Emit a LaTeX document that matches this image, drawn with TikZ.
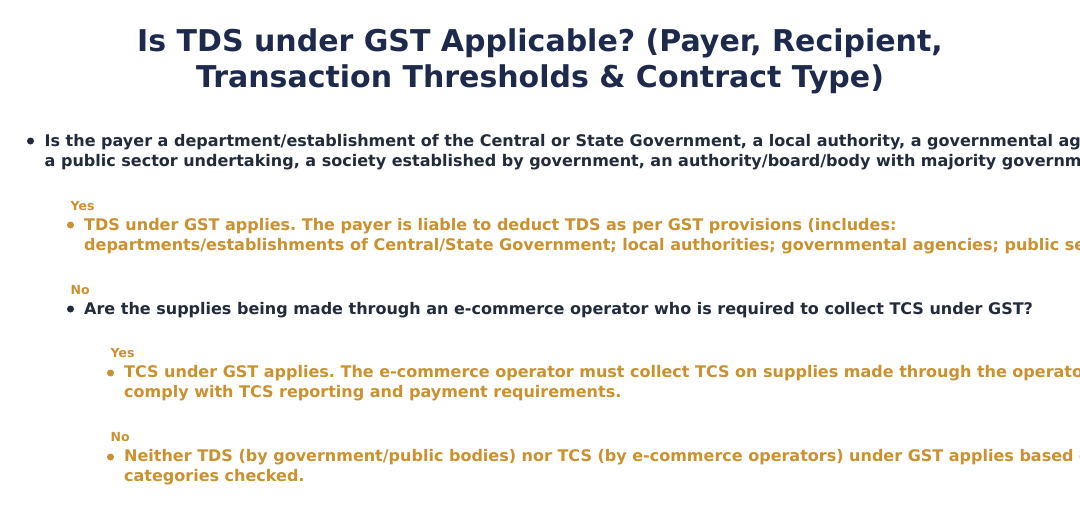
\documentclass[tikz,border=0pt]{standalone}
\usepackage{fontspec}
\setmainfont{DejaVu Sans}
\frenchspacing
\definecolor{titlecol}{HTML}{1E2A4C}
\definecolor{bodycol}{HTML}{222B3B}
\definecolor{accent}{HTML}{C9912F}
\begin{document}
\frenchspacing
\begin{tikzpicture}[x=1pt,y=-1pt,
  titletext/.style={anchor=base,inner sep=0pt,font=\fontsize{30}{33}\selectfont\bfseries,text=titlecol},
  qtext/.style={anchor=base west,inner sep=0pt,font=\fontsize{16}{20}\selectfont\bfseries,text=bodycol},
  atext/.style={anchor=base west,inner sep=0pt,font=\fontsize{16}{20}\selectfont\bfseries,text=accent},
  lbl/.style={anchor=base west,inner sep=0pt,font=\fontsize{12.5}{14}\selectfont\bfseries,text=accent},
  qdot/.style={circle,fill=bodycol,inner sep=0pt,minimum size=7pt},
  adot/.style={circle,fill=accent,inner sep=0pt,minimum size=7pt}]
\useasboundingbox (0,0) rectangle (1080,514);
\clip (0,0) rectangle (1080,514);
\fill[white] (0,0) rectangle (1080,514);
% title
\node[titletext] (t1) at (540,51) {Is TDS under GST Applicable? (Payer, Recipient,};
\node[titletext] (t2) at (540,87) {Transaction Thresholds \& Contract Type)};
% question 1
\node[qdot] (d1) at (30.5,141) {};
\node[qtext] (q1a) at (44.5,146) {Is the payer a department/establishment of the Central or State Government, a local authority, a governmental agency,};
\node[qtext] (q1b) at (44.5,166) {a public sector undertaking, a society established by government, an authority/board/body with majority government};
% yes 1
\node[lbl] (y1) at (70.5,210) {Yes};
\node[adot] (d2) at (70.5,225) {};
\node[atext] (a1a) at (84,230) {TDS under GST applies. The payer is liable to deduct TDS as per GST provisions (includes:};
\node[atext] (a1b) at (84,250) {departments/establishments of Central/State Government; local authorities; governmental agencies; public sector};
% no 1
\node[lbl] (n1) at (70.5,294) {No};
\node[qdot] (d3) at (70.5,309) {};
\node[qtext] (q2) at (84,314) {Are the supplies being made through an e-commerce operator who is required to collect TCS under GST?};
% yes 2
\node[lbl] (y2) at (110.5,357.5) {Yes};
\node[adot] (d4) at (110.5,373) {};
\node[atext] (a2a) at (124,377.5) {TCS under GST applies. The e-commerce operator must collect TCS on supplies made through the operator};
\node[atext] (a2b) at (124,397.5) {comply with TCS reporting and payment requirements.};
% no 2
\node[lbl] (n2) at (110.5,441.5) {No};
\node[adot] (d5) at (110.5,457) {};
\node[atext] (a3a) at (124,461.5) {Neither TDS (by government/public bodies) nor TCS (by e-commerce operators) under GST applies based on};
\node[atext] (a3b) at (124,481.5) {categories checked.};
\end{tikzpicture}
\end{document}
